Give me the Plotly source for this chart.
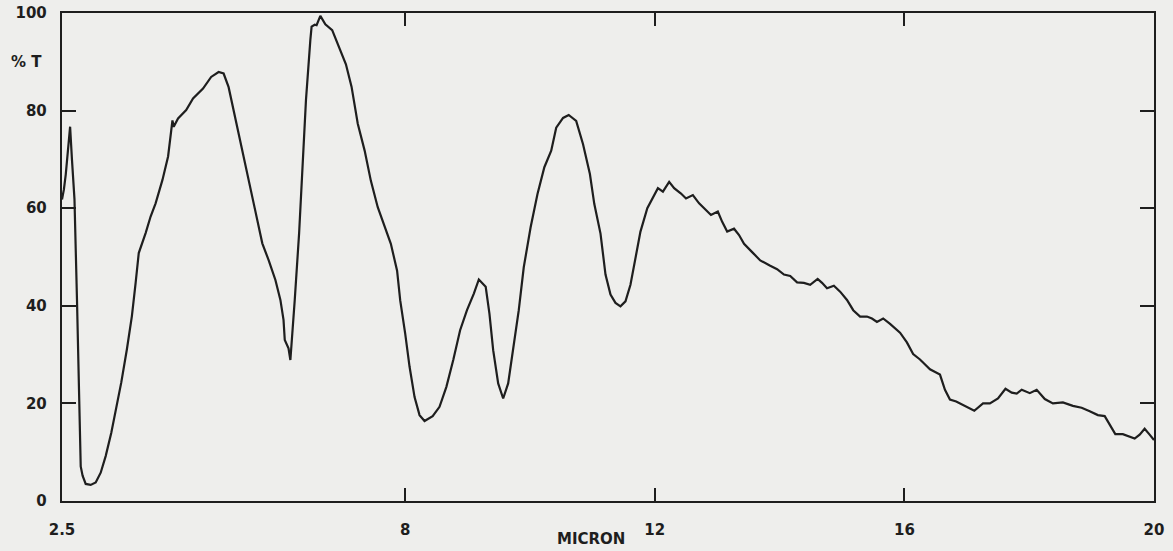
import plotly.graph_objects as go

# Data (wavelength in micron, % transmittance)
micron = [2.50, 2.53, 2.56, 2.63, 2.66, 2.70, 2.74, 2.78, 2.80, 2.83, 2.88, 2.96, 3.04, 3.12,
          3.20, 3.29, 3.37, 3.45, 3.54, 3.62, 3.68, 3.73, 3.84, 3.92, 4.00, 4.11, 4.20, 4.25,
          4.27, 4.29, 4.36, 4.49, 4.60, 4.76, 4.89, 5.01, 5.09, 5.17, 5.24, 5.32, 5.40, 5.50,
          5.61, 5.71, 5.81, 5.92, 6.00, 6.05, 6.07, 6.13, 6.16, 6.19, 6.23, 6.30, 6.35, 6.41,
          6.48, 6.50, 6.55, 6.58, 6.64, 6.72, 6.83, 6.95, 7.05, 7.14, 7.24, 7.35, 7.45, 7.56,
          7.66, 7.77, 7.87, 7.92, 8.00, 8.07, 8.15, 8.23, 8.31, 8.44, 8.55, 8.66, 8.77, 8.88,
          8.99, 9.10, 9.18, 9.29, 9.35, 9.41, 9.49, 9.57, 9.65, 9.73, 9.82, 9.90, 10.01, 10.12,
          10.23, 10.34, 10.42, 10.53, 10.62, 10.74, 10.85, 10.96, 11.03, 11.13, 11.21, 11.29,
          11.37, 11.45, 11.53, 11.61, 11.69, 11.77, 11.88, 11.99, 12.05, 12.13, 12.23, 12.31,
          12.42, 12.50, 12.61, 12.71, 12.82, 12.90, 13.01, 13.08, 13.16, 13.27, 13.35, 13.43,
          13.56, 13.69, 13.85, 13.96, 14.07, 14.17, 14.28, 14.39, 14.49, 14.61, 14.68, 14.76,
          14.87, 14.97, 15.08, 15.18, 15.29, 15.40, 15.48, 15.56, 15.66, 15.77, 15.93, 16.04,
          16.14, 16.25, 16.41, 16.57, 16.65, 16.73, 16.83, 16.99, 17.12, 17.26, 17.37, 17.50,
          17.62, 17.72, 17.80, 17.88, 18.01, 18.12, 18.25, 18.38, 18.54, 18.70, 18.84, 18.97,
          19.10, 19.21, 19.29, 19.38, 19.50, 19.58, 19.69, 19.77, 19.85, 19.93, 20.00]
transmittance = [61.8, 63.8, 66.9, 76.7, 69.9, 61.8, 41.3, 20.8, 7.1, 5.2, 3.5, 3.3, 3.8, 5.8,
                 9.2, 14.0, 18.8, 24.3, 31.1, 37.9, 44.7, 50.8, 54.9, 58.3, 61.0, 65.8, 70.6, 76.0,
                 78.0, 76.7, 78.4, 80.1, 82.5, 84.5, 86.9, 87.9, 87.6, 84.8, 80.7, 76.0, 71.3, 65.1,
                 59.0, 52.8, 49.4, 45.3, 41.2, 37.1, 33.0, 31.3, 28.9, 33.7, 41.2, 54.9, 68.5, 82.2,
                 94.5, 97.2, 97.6, 97.5, 99.4, 97.7, 96.5, 92.5, 89.5, 84.9, 77.3, 71.8, 65.6, 60.2,
                 56.8, 52.7, 47.2, 41.1, 34.3, 27.5, 21.3, 17.6, 16.4, 17.4, 19.3, 23.4, 28.9, 35.0,
                 39.1, 42.5, 45.4, 43.9, 38.4, 30.9, 24.1, 21.0, 24.1, 30.9, 39.1, 47.9, 56.1, 62.9,
                 68.4, 71.8, 76.5, 78.5, 79.1, 77.9, 73.1, 67.0, 60.9, 54.8, 46.4, 42.3,
                 40.6, 39.9, 40.9, 44.3, 49.8, 55.2, 60.0, 62.7, 64.1, 63.4, 65.4, 64.1,
                 63.0, 62.0, 62.7, 61.0, 59.6, 58.6, 59.3, 57.2, 55.2, 55.8, 54.5, 52.7,
                 51.0, 49.3, 48.2, 47.5, 46.4, 46.1, 44.8, 44.7, 44.3, 45.5, 44.7, 43.6,
                 44.1, 42.9, 41.2, 39.1, 37.8, 37.8, 37.4, 36.7, 37.4, 36.3, 34.5, 32.5,
                 30.1, 29.0, 27.0, 25.9, 22.8, 20.8, 20.4, 19.4, 18.5, 20.0, 20.0, 21.0,
                 23.0, 22.2, 22.0, 22.8, 22.1, 22.8, 20.9, 20.0, 20.2, 19.5, 19.1, 18.4,
                 17.6, 17.4, 15.7, 13.7, 13.7, 13.3, 12.8, 13.6, 14.8, 13.6, 12.5]

x_tick_vals = [2.5, 8, 12, 16, 20]
x_tick_text = ["2.5", "8", "12", "16", "20"]
y_tick_vals = [0, 20, 40, 60, 80, 100]
y_tick_text = ["0", "20", "40", "60", "80", "100"]

INK = "#1e1e1e"
PAPER = "#eeeeec"
FONT = "DejaVu Sans"

fig = go.Figure()
fig.add_trace(go.Scatter(x=micron, y=transmittance, mode="lines",
                         line=dict(color=INK, width=2.2), hoverinfo="skip",
                         showlegend=False))

fig.update_layout(
    width=1173, height=551,
    margin=dict(l=62, r=19, t=13, b=50),
    paper_bgcolor=PAPER, plot_bgcolor=PAPER,
    font=dict(family=FONT, size=15, color=INK),
    showlegend=False,
)
fig.update_xaxes(
    range=[2.5, 20], tickvals=x_tick_vals, ticktext=x_tick_text,
    ticks="inside", ticklen=13, tickwidth=2, tickcolor=INK,
    showline=True, linewidth=2.4, linecolor=INK, mirror="allticks",
    showgrid=False, zeroline=False, ticklabelstandoff=14, automargin=False,
    tickfont=dict(family=FONT, size=15, color=INK, weight="bold"),
)
fig.update_yaxes(
    range=[0, 100], tickvals=y_tick_vals, ticktext=y_tick_text,
    ticks="inside", ticklen=14, tickwidth=2, tickcolor=INK,
    showline=True, linewidth=2.4, linecolor=INK, mirror="allticks",
    showgrid=False, zeroline=False, ticklabelstandoff=10, automargin=False,
    tickfont=dict(family=FONT, size=15, color=INK, weight="bold"),
)
fig.add_annotation(text="% T", xref="paper", yref="y", x=0, y=90,
                   xanchor="right", xshift=-18, showarrow=False,
                   font=dict(family=FONT, size=15, color=INK, weight="bold"))
fig.add_annotation(text="MICRON", xref="x", yref="paper", x=10.97, y=0,
                   yanchor="top", yshift=-27, showarrow=False,
                   font=dict(family=FONT, size=15, color=INK, weight="bold"))

fig.write_html("out.html")
